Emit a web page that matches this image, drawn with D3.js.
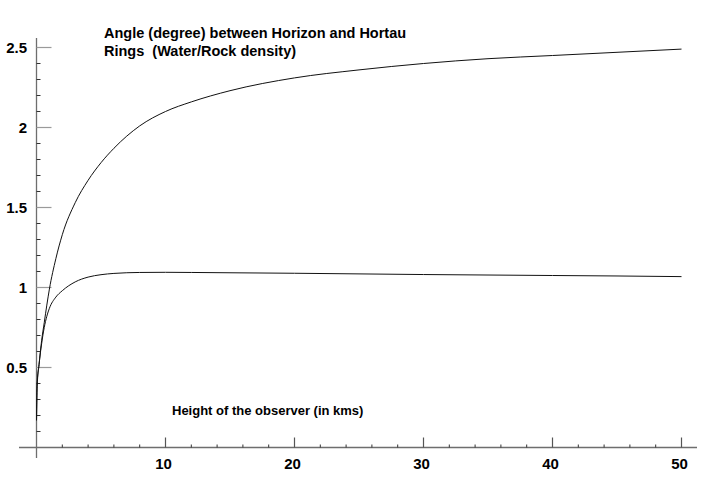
<!DOCTYPE html>
<html>
<head>
<meta charset="utf-8">
<script src="https://cdn.jsdelivr.net/npm/d3@7"></script>
<style>
  html, body { margin: 0; padding: 0; background: #fff; }
  svg { display: block; }
  text { font-family: "Liberation Sans", Arial, sans-serif; font-weight: bold; fill: #000; }
</style>
</head>
<body>
<script>
// ---- data ----
const heights = [0, 0.05, 0.2, 0.4, 0.6, 0.8, 1, 1.5, 2, 3, 4, 5, 6, 8, 10, 12, 15, 20, 25, 30, 35, 40, 45, 50];
const upperAngle = [0.17, 0.40, 0.52, 0.67, 0.78, 0.89, 0.99, 1.18, 1.33, 1.53, 1.67, 1.78, 1.87, 2.01, 2.10, 2.16, 2.23, 2.31, 2.36, 2.40, 2.43, 2.45, 2.47, 2.49];
const lowerAngle = [0.17, 0.38, 0.52, 0.65, 0.75, 0.82, 0.87, 0.94, 0.98, 1.035, 1.065, 1.08, 1.088, 1.094, 1.095, 1.094, 1.092, 1.089, 1.085, 1.081, 1.078, 1.075, 1.072, 1.068];
const xTickValues = [10, 20, 30, 40, 50];
const xTickLabels = ["10", "20", "30", "40", "50"];
const yTickValues = [0.5, 1, 1.5, 2, 2.5];
const yTickLabels = ["0.5", "1", "1.5", "2", "2.5"];
const titleLines = ["Angle (degree) between Horizon and Hortau", "Rings  (Water/Rock density)"];
const xAxisTitle = "Height of the observer (in kms)";

// ---- layout ----
const W = 708, H = 480;
const svg = d3.select("body").append("svg").attr("width", W).attr("height", H);

const x = d3.scaleLinear().domain([0, 50]).range([36.5, 681.5]);
const y = d3.scaleLinear().domain([0, 2.5]).range([447.5, 47.5]);

const axisColor = "#6e6e6e";

// x axis line
svg.append("line")
  .attr("x1", 19).attr("x2", 697)
  .attr("y1", y(0)).attr("y2", y(0))
  .attr("stroke", axisColor).attr("stroke-width", 1.3);

// y axis line
svg.append("line")
  .attr("x1", x(0)).attr("x2", x(0))
  .attr("y1", 38).attr("y2", 458)
  .attr("stroke", axisColor).attr("stroke-width", 1.3);

// x minor ticks
const xMinor = d3.range(2, 51, 2).filter(v => v % 10 !== 0);
svg.append("g").selectAll("line").data(xMinor).join("line")
  .attr("x1", d => x(d)).attr("x2", d => x(d))
  .attr("y1", y(0)).attr("y2", y(0) - 3)
  .attr("stroke", "#333").attr("stroke-width", 1);

// x major ticks
svg.append("g").selectAll("line").data(xTickValues).join("line")
  .attr("x1", d => x(d)).attr("x2", d => x(d))
  .attr("y1", y(0)).attr("y2", y(0) - 10)
  .attr("stroke", "#555").attr("stroke-width", 1.2);

// x tick labels
svg.append("g").selectAll("text").data(xTickValues).join("text")
  .attr("x", d => x(d) - 2)
  .attr("y", 469)
  .attr("text-anchor", "middle")
  .attr("font-size", 15)
  .text((d, i) => xTickLabels[i]);

// y minor ticks
const yMinor = d3.range(1, 26).map(v => v / 10).filter(v => Math.abs(v * 2 - Math.round(v * 2)) > 1e-6);
svg.append("g").selectAll("line").data(yMinor).join("line")
  .attr("x1", x(0)).attr("x2", x(0) + 4)
  .attr("y1", d => y(d)).attr("y2", d => y(d))
  .attr("stroke", "#333").attr("stroke-width", 1);

// y major ticks
svg.append("g").selectAll("line").data(yTickValues).join("line")
  .attr("x1", x(0)).attr("x2", x(0) + 15)
  .attr("y1", d => y(d)).attr("y2", d => y(d))
  .attr("stroke", "#9a9a9a").attr("stroke-width", 1.2);

// y tick labels
svg.append("g").selectAll("text").data(yTickValues).join("text")
  .attr("x", 27)
  .attr("y", d => y(d) + 5.5)
  .attr("text-anchor", "end")
  .attr("font-size", 15)
  .text((d, i) => yTickLabels[i]);

// curves
const line = d3.line()
  .x(d => x(d[0]))
  .y(d => y(d[1]))
  .curve(d3.curveMonotoneX);

[upperAngle, lowerAngle].forEach(series => {
  svg.append("path")
    .datum(heights.map((h, i) => [h, series[i]]))
    .attr("fill", "none")
    .attr("stroke", "#111")
    .attr("stroke-width", 1)
    .attr("d", line);
});

// titles
svg.append("g").selectAll("text").data(titleLines).join("text")
  .attr("x", 104)
  .attr("y", (d, i) => 38 + i * 18)
  .attr("font-size", 14.5)
  .attr("xml:space", "preserve")
  .style("white-space", "pre")
  .text(d => d);

svg.append("text")
  .attr("x", 172)
  .attr("y", 415)
  .attr("font-size", 13)
  .text(xAxisTitle);
</script>
</body>
</html>
